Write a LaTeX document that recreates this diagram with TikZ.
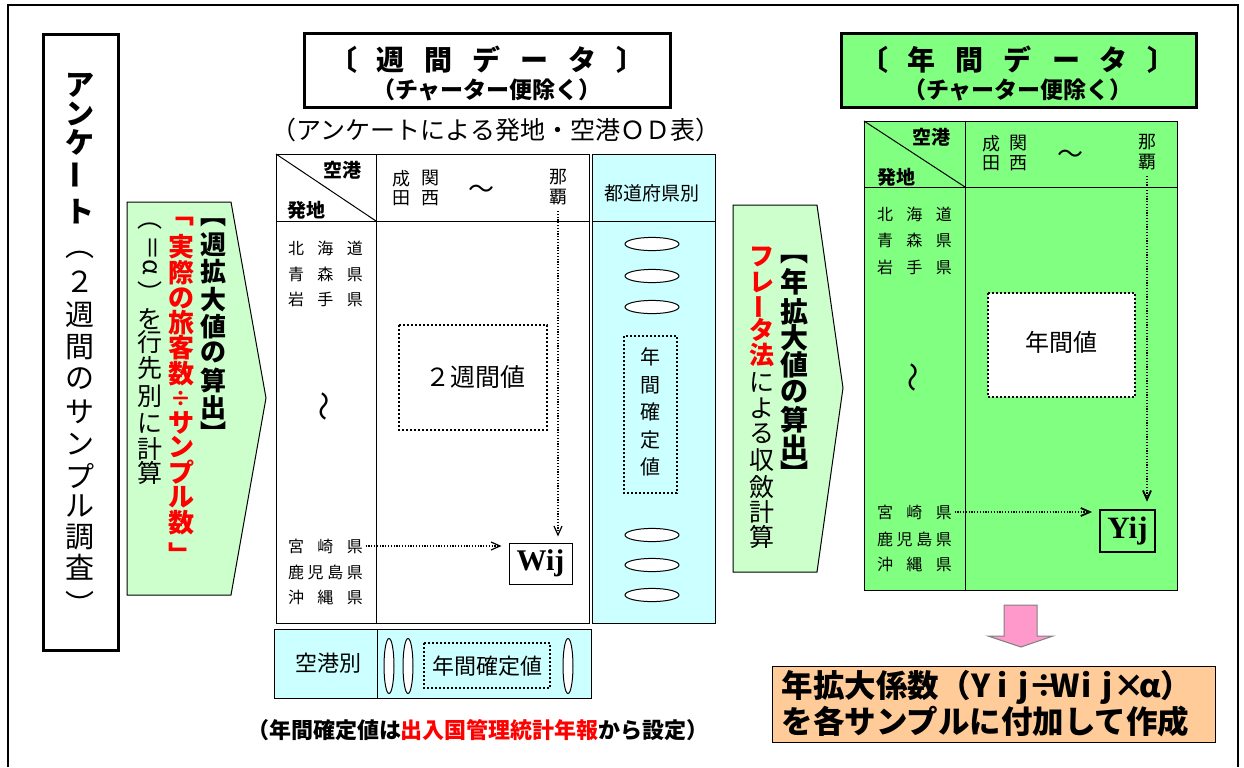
\documentclass[tikz,border=0pt]{standalone}
\usepackage{fontspec}
\usepackage{graphicx}
\setmainfont{Noto Sans CJK JP}
\newfontfamily\serifbf{Liberation Serif}
\usetikzlibrary{arrows.meta}
\definecolor{lgreen}{HTML}{CCFFCC}
\definecolor{lcyan}{HTML}{CCFFFF}
\definecolor{ygreen}{HTML}{80FF80}
\definecolor{pinkarr}{HTML}{FF99CC}
\definecolor{orangebox}{HTML}{FFCC99}
\newcommand\vlong{\rotatebox[origin=c]{90}{ー}}
\newcommand\vrot[1]{\rotatebox[origin=c]{-90}{#1}}
\newcommand\tgap{\hspace{10pt}}
\newcommand\oslot[1]{\makebox[0.67em]{#1}}
\newcommand\spread[1]{\makebox[37.5pt][s]{#1}}

\begin{document}
\begin{tikzpicture}[x=0.5pt,y=-0.5pt,line width=0.5pt,
  txt/.style={inner sep=1pt},
  vch/.style={inner sep=0pt},
  dotbox/.style={draw,line width=1pt,dash pattern=on 1pt off 1pt},
  dotarr/.style={line width=0.6pt,dash pattern=on 0.6pt off 0.8pt,
    -{Straight Barb[length=4.5pt,width=4pt]}},
  pref/.style={inner sep=1pt,font=\fontsize{8pt}{8pt}\selectfont},
  corner/.style={inner sep=1pt,font=\fontsize{9.5pt}{9.5pt}\selectfont\bfseries},
  airp/.style={inner sep=1pt,align=center,font=\fontsize{9pt}{9.75pt}\selectfont}]
\useasboundingbox (0,0) rectangle (1244,767);
\draw[line width=1pt] (8,767) -- (8,5) -- (1238,5) -- (1238,767);

% survey box
\draw[line width=1.5pt] (43,34) rectangle (118,650);
\foreach \c/\y [count=\i] in {ア/85,ン/114,ケ/142,\vlong/175,ト/212}
  \node[vch,font=\fontsize{14.5pt}{15pt}\selectfont\bfseries] (enqa\i) at (80,\y) {\c};
\foreach \c/\y [count=\i] in {︵/255,２/282,週/315,間/347,の/379,サ/412,ン/444,プ/476,ル/506,調/537,査/567,︶/603}
  \node[vch,font=\fontsize{14.5pt}{15pt}\selectfont] (enqb\i) at (80,\y) {\c};

% weekly expansion arrow
\draw[fill=lgreen] (127,202) -- (231,202) -- (266,398) -- (231,595) -- (127,595) -- cycle;
\foreach \c/\y [count=\i] in {︻/223,週/245,拡/272,大/300,値/327,の/352,算/380,出/408,︼/432}
  \node[vch,font=\fontsize{13pt}{13pt}\selectfont\bfseries] (wexa\i) at (213,\y) {\c};
\foreach \c/\y [count=\i] in {﹁/222,実/247,際/273,の/298,旅/323,客/348,数/374,{\fontsize{10.5pt}{10.5pt}\selectfont ÷}/399,サ/423,ン/447,プ/472,ル/497,数/523,﹂/554}
  \node[vch,text=red,font=\fontsize{13pt}{13pt}\selectfont\bfseries] (wexb\i) at (181,\y) {\c};
\foreach \c/\y [count=\i] in {︵/226,\vrot{＝}/248,\vrot{α}/267,︶/292,を/319,行/342,先/368,別/396,に/423,計/449,算/473}
  \node[vch,font=\fontsize{12.5pt}{12.5pt}\selectfont] (wexc\i) at (150,\y) {\c};

% weekly data title
\draw[line width=1.5pt] (304,33) rectangle (670,107);
\node[txt,font=\fontsize{14pt}{14pt}\selectfont\bfseries] (wtit) at (487,60)
  {〔\tgap 週\tgap 間\tgap デ\tgap ー\tgap タ\tgap 〕};
\node[txt,font=\fontsize{11.5pt}{11.5pt}\selectfont\bfseries] (wsub) at (487,90) {（チャーター便除く）};
\node[txt,font=\fontsize{12.5pt}{12.5pt}\selectfont] (odtab) at (496,130) {（アンケートによる発地・空港ＯＤ表）};

% weekly table
\draw (276,154) rectangle (589,623);
\draw (376,154) -- (376,623);
\draw (276,221) -- (589,221);
\draw (276,154) -- (376,221);
\node[corner] (wdst) at (342,170) {空港};
\node[corner] (worg) at (306,210) {発地};
\node[airp] (wnrt) at (401,188) {成\\田};
\node[airp] (wkix) at (430,188) {関\\西};
\node[txt,font=\fontsize{13pt}{13pt}\selectfont] (wtil) at (481,192) {〜};
\node[airp] (wnaha) at (558,187) {那\\覇};
\node[pref] (whok) at (325.5,248) {\spread{北\hfill 海\hfill 道}};
\node[pref] (waom) at (325.5,274) {\spread{青\hfill 森\hfill 県}};
\node[pref] (wiwa) at (325.5,299) {\spread{岩\hfill 手\hfill 県}};
\node[txt,font=\fontsize{15pt}{15pt}\selectfont] (wwave) at (328,406) {\rotatebox{90}{〜}};
\node[pref] (wmiya) at (325.5,546) {\spread{宮\hfill 崎\hfill 県}};
\node[pref] (wkago) at (325.5,572) {\spread{鹿\hfill 児\hfill 島\hfill 県}};
\node[pref] (wokin) at (325.5,597) {\spread{沖\hfill 縄\hfill 県}};
\draw[dotbox] (399,325) rectangle (547,430);
\node[txt,font=\fontsize{12.5pt}{12.5pt}\selectfont] (wval) at (475,377) {２週間値};
\node[draw,minimum width=31.5pt,minimum height=20.5pt,inner sep=0pt,
  font={\serifbf\fontsize{15pt}{15pt}\selectfont\bfseries}] (wij) at (540.5,563.5) {Wij};
\draw[dotarr,shorten <=2pt,shorten >=3pt] (wnaha.south) -- (wnaha.south |- wij.north);
\draw[dotarr,shorten >=3.5pt] (wmiya.east) -- (wmiya.east -| wij.west);

% prefecture column
\draw[fill=lcyan] (592,154) rectangle (715,623);
\draw (592,221) -- (715,221);
\node[txt,font=\fontsize{9.5pt}{9.5pt}\selectfont] (wpref) at (652,193) {都道府県別};
\foreach \y in {244,276,307,535,565,595}
  \draw[fill=white] (652,\y) ellipse [x radius=13.5pt,y radius=3.3pt];
\draw[dotbox] (624,336) rectangle (677,493);
\foreach \c/\y [count=\i] in {年/357,間/385,確/412,定/440,値/467}
  \node[vch,font=\fontsize{10pt}{10pt}\selectfont] (wfix\i) at (650,\y) {\c};

% airport row
\draw[fill=lcyan] (274,629) rectangle (591,698);
\draw (377,629) -- (377,698);
\node[txt,font=\fontsize{11pt}{11pt}\selectfont] (wapt) at (328,663) {空港別};
\foreach \x in {389,408,568}
  \draw[fill=white] (\x,666) ellipse [x radius=2.5pt,y radius=13.75pt];
\draw[dotbox] (424,643) rectangle (550,688);
\node[txt,font=\fontsize{11pt}{11pt}\selectfont] (wfixa) at (487,666) {年間確定値};
\node[txt,font=\fontsize{11pt}{11pt}\selectfont\bfseries] (note) at (478,730)
  {（年間確定値は\textcolor{red}{出入国管理統計年報}から設定）};

% annual expansion arrow
\draw[fill=lgreen] (733,205) -- (817,205) -- (843,388) -- (817,572) -- (733,572) -- cycle;
\foreach \c/\y [count=\i] in {︻/260,年/282,拡/312,大/338,値/365,の/392,算/420,出/448,︼/473}
  \node[vch,font=\fontsize{14pt}{14pt}\selectfont\bfseries] (aexa\i) at (794,\y) {\c};
\foreach \c/\y [count=\i] in {フ/257,レ/283,\vlong/307,タ/330,法/355}
  \node[vch,text=red,font=\fontsize{12.5pt}{12.5pt}\selectfont\bfseries] (aexb\i) at (762,\y) {\c};
\foreach \c/\y [count=\i] in {に/382,よ/408,る/434,収/460,斂/487,計/512,算/537}
  \node[vch,font=\fontsize{12.5pt}{12.5pt}\selectfont] (aexc\i) at (762,\y) {\c};

% annual data title
\draw[fill=ygreen,line width=1.5pt] (841,33) rectangle (1196,107);
\node[txt,font=\fontsize{14pt}{14pt}\selectfont\bfseries] (atit) at (1018,60)
  {〔\tgap 年\tgap 間\tgap デ\tgap ー\tgap タ\tgap 〕};
\node[txt,font=\fontsize{11.5pt}{11.5pt}\selectfont\bfseries] (asub) at (1018,90) {（チャーター便除く）};

% annual table
\draw[fill=ygreen] (864,121) rectangle (1177,590);
\draw (965,121) -- (965,590);
\draw (864,187) -- (1177,187);
\draw (864,121) -- (965,187);
\node[corner] (adst) at (931,137) {空港};
\node[corner] (aorg) at (896,177) {発地};
\node[airp] (anrt) at (991,153) {成\\田};
\node[airp] (akix) at (1018,153) {関\\西};
\node[txt,font=\fontsize{13pt}{13pt}\selectfont] (atil) at (1070,157) {〜};
\node[airp] (anaha) at (1147,152) {那\\覇};
\node[pref] (ahok) at (914.5,214) {\spread{北\hfill 海\hfill 道}};
\node[pref] (aaom) at (914.5,240) {\spread{青\hfill 森\hfill 県}};
\node[pref] (aiwa) at (914.5,267) {\spread{岩\hfill 手\hfill 県}};
\node[txt,font=\fontsize{15pt}{15pt}\selectfont] (awave) at (917,377) {\rotatebox{90}{〜}};
\node[pref] (amiya) at (914.5,512) {\spread{宮\hfill 崎\hfill 県}};
\node[pref] (akago) at (914.5,539) {\spread{鹿\hfill 児\hfill 島\hfill 県}};
\node[pref] (aokin) at (914.5,564) {\spread{沖\hfill 縄\hfill 県}};
\draw[dotbox,fill=white] (988,293) rectangle (1135,397);
\node[txt,font=\fontsize{12pt}{12pt}\selectfont] (aval) at (1061,342) {年間値};
\node[draw,line width=1pt,minimum width=27.5pt,minimum height=20.7pt,inner sep=0pt,
  font={\serifbf\fontsize{15.5pt}{15.5pt}\selectfont\bfseries}] (yij) at (1127.5,531) {Yij};
\draw[dotarr,line width=0.9pt,shorten <=2pt,shorten >=3.8pt] (anaha.south) -- (anaha.south |- yij.north);
\draw[dotarr,line width=0.9pt,shorten >=3.5pt] (amiya.east) -- (amiya.east -| yij.west);

% result
\draw[fill=pinkarr,draw=gray] (1004,605) -- (1037,605) -- (1037,636) -- (1053,636) -- (1021,647)
  -- (988,636) -- (1004,636) -- cycle;
\draw[fill=orangebox] (772,666) rectangle (1215,742);
\node[txt,anchor=west,align=left,font=\fontsize{15.75pt}{16.65pt}\selectfont\bfseries] (coef) at (779,703.5)
  {年拡大係数（\oslot{Y}\oslot{i}\oslot{j}\oslot{÷}\oslot{W}\oslot{i}\oslot{j}\oslot{×}\oslot{α}）\\
   を各サンプルに付加して作成};
\end{tikzpicture}
\end{document}
